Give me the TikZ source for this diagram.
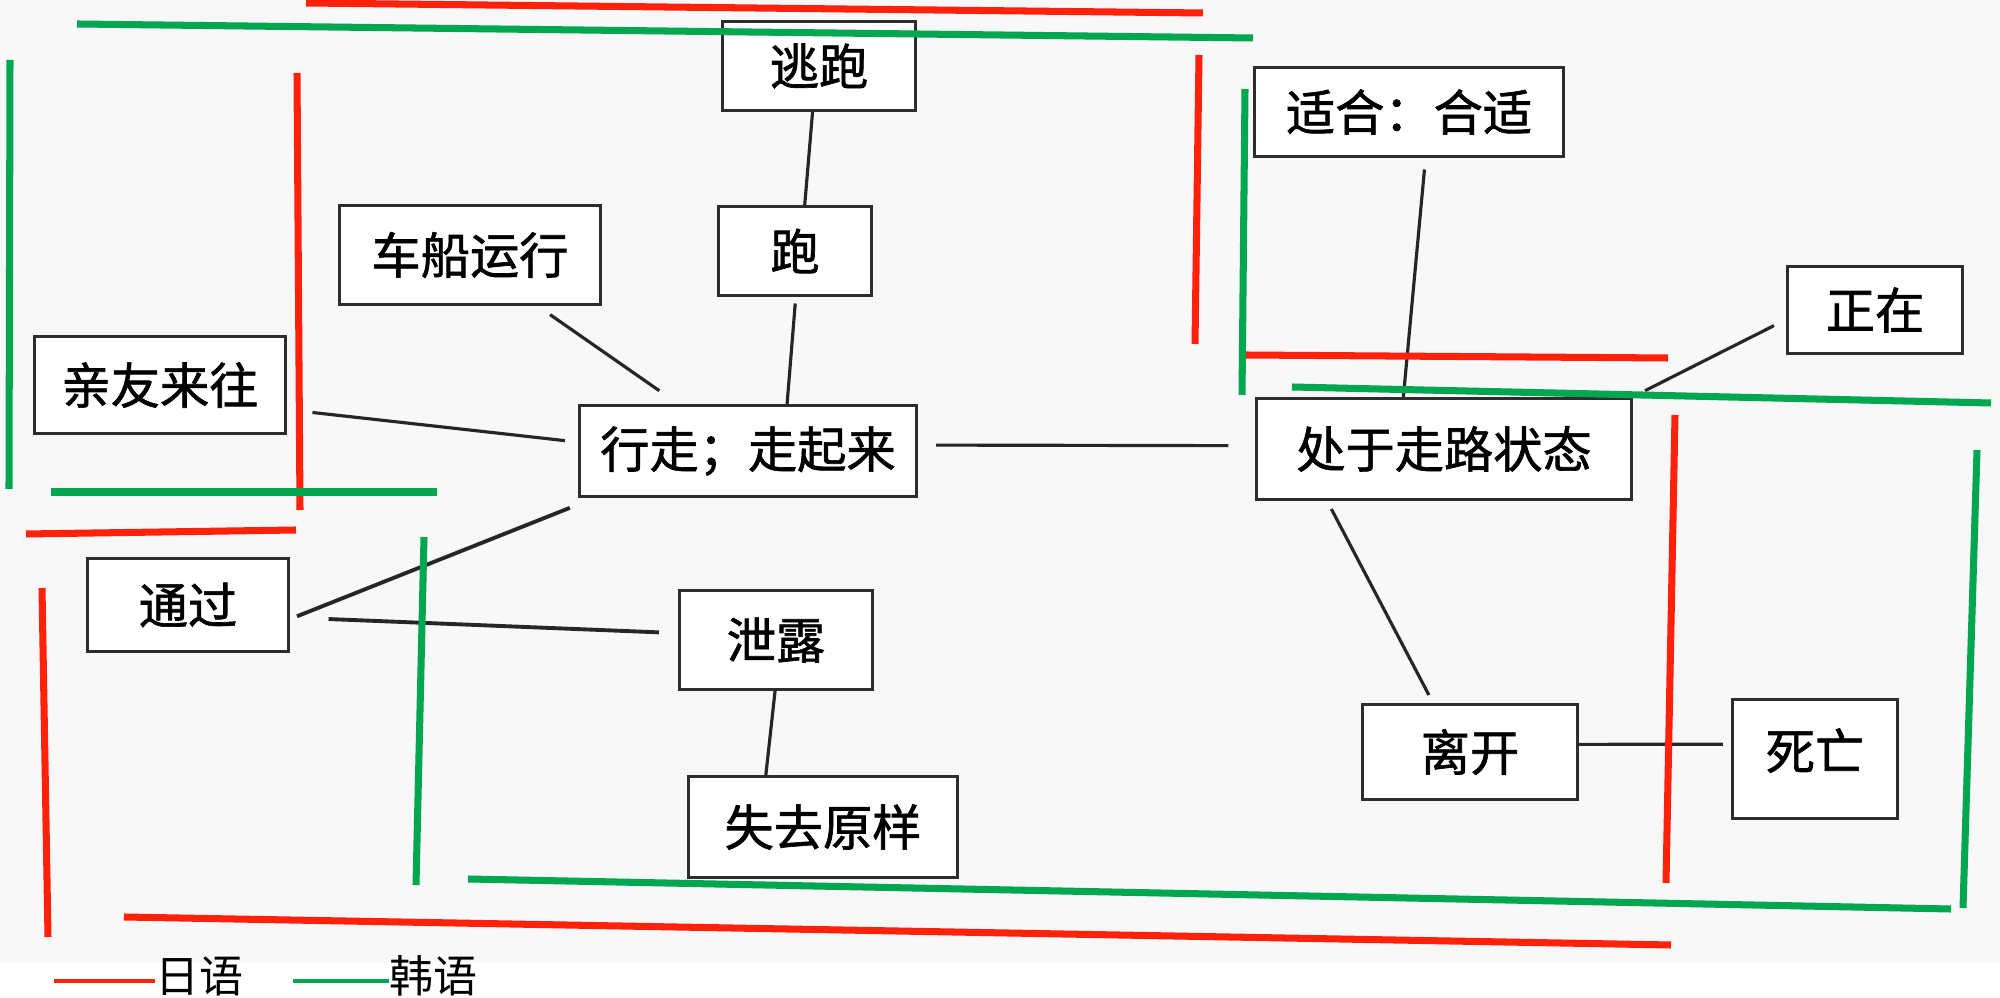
\documentclass[tikz,border=0pt]{standalone}
\usepackage{fontspec}
\setmainfont{Noto Sans CJK SC}
\newfontfamily\boxfont{Noto Sans CJK SC}[FakeBold=1.3]
\usepackage{tikz}
\usetikzlibrary{calc}

\definecolor{jpred}{RGB}{255,34,10}
\definecolor{krgreen}{RGB}{0,166,80}
\definecolor{bggray}{RGB}{248,248,248}
\definecolor{boxline}{RGB}{45,45,45}

\begin{document}
\begin{tikzpicture}[x=0.01cm,y=-0.01cm,
  word/.style={draw=boxline,line width=0.85pt,fill=white,inner sep=0pt,
    font=\fontsize{14}{16}\boxfont},
  link/.style={draw=black!85,line width=0.9pt},
  jpline/.style={draw=jpred,line width=2pt},
  krline/.style={draw=krgreen,line width=2pt},
  legend/.style={inner sep=0pt,font=\fontsize{12.5}{14}\selectfont}]
\useasboundingbox (0,0) rectangle (2000,998);
\fill[white] (0,0) rectangle (2000,998);
\fill[bggray] (0,0) rectangle (2000,962);

% boxes
\node[word,minimum width=1.92cm,minimum height=0.88cm] (taopao) at (819,66) {逃跑};
\node[word,minimum width=2.61cm,minimum height=0.99cm] (chechuan) at (470,255) {车船运行};
\node[word,minimum width=1.52cm,minimum height=0.88cm] (pao) at (795,251) {跑};
\node[word,minimum width=2.50cm,minimum height=0.97cm] (qinyou) at (160,385) {亲友来往};
\node[word,minimum width=3.37cm,minimum height=0.90cm] (xingzou) at (748,451) {行走；走起来};
\node[word,minimum width=3.08cm,minimum height=0.88cm] (shihe) at (1409,112) {适合：合适};
\node[word,minimum width=1.74cm,minimum height=0.87cm] (zhengzai) at (1875,310) {正在};
\node[word,minimum width=3.74cm,minimum height=1.01cm] (chuyu) at (1444,449) {处于走路状态};
\node[word,minimum width=2.00cm,minimum height=0.93cm] (tongguo) at (188,605) {通过};
\node[word,minimum width=1.93cm,minimum height=0.98cm] (xielu) at (776,640) {泄露};
\node[word,minimum width=2.68cm,minimum height=1.00cm] (shiqu) at (823,827) {失去原样};
\node[word,minimum width=2.15cm,minimum height=0.95cm] (likai) at (1470,752) {离开};
\node[word,minimum width=1.65cm,minimum height=1.18cm] (siwang) at (1815,759) {\raisebox{0.2cm}{死亡}};

% links
\draw[link] (taopao.-98) -- (pao.78);
\draw[link,shorten <=0.07cm] (pao.-89) -- (xingzou.50);
\draw[link,shorten <=0.15cm,shorten >=0.24cm] (chechuan.-37) -- (xingzou.146);
\draw[link,shorten <=0.26cm,shorten >=0.13cm] (qinyou.-11) -- (xingzou.177.5);
\draw[link,shorten <=0.18cm,shorten >=0.27cm] (xingzou.2) -- (chuyu.179);
\draw[link,line width=1.1pt,shorten <=0.28cm,shorten >=0.08cm] (xingzou.-163.6) -- (tongguo.-8.4);
\draw[link,line width=1.1pt,shorten <=0.39cm,shorten >=0.19cm] (tongguo.-7.8) -- (xielu.176);
\draw[link] (xielu.-91) -- (shiqu.138);
\draw[link,shorten <=0.12cm] (shihe.-70) -- (chuyu.128);
\draw[link,shorten <=0.14cm,shorten >=0.14cm] (zhengzai.-174.3) -- (chuyu.north east);
\draw[link,shorten <=0.09cm,shorten >=0.09cm] (chuyu.-156) -- (likai.127);
\draw[link,shorten >=0.08cm] (likai.4.8) -- (siwang.170);

% japanese
\draw[jpline] (306,3) -- (1203,13);
\draw[jpline] (297,73) -- (300,510);
\draw[jpline] (26,534) -- (296,530);
\draw[jpline] (42,588) -- (48,937);
\draw[jpline] (124,917) -- (1671,945);
\draw[jpline] (1199,55) -- (1195,344);
\draw[jpline] (1245,355) -- (1668,358);
\draw[jpline] (1675,415) -- (1666,883);

% korean
\draw[krline] (77,24) -- (1253,38);
\draw[krline] (10,60) -- (9,489);
\draw[krline] (51,492) -- (437,492);
\draw[krline] (424,537) -- (416,885);
\draw[krline] (468,879) -- (1951,909);
\draw[krline] (1977,450) -- (1963,908);
\draw[krline] (1292,387) -- (1991,403);
\draw[krline] (1245,89) -- (1242,395);

% legend
\node[legend,anchor=west] (legjp) at (155,976) {日语};
\node[legend,anchor=west] (legkr) at (389,976) {韩语};
\draw[jpred,line width=1pt] (legjp.west) ++(0,5) -- ++(-101,0);
\draw[krgreen,line width=1pt] (legkr.west) ++(0,5) -- ++(-96,0);
\end{tikzpicture}
\end{document}
